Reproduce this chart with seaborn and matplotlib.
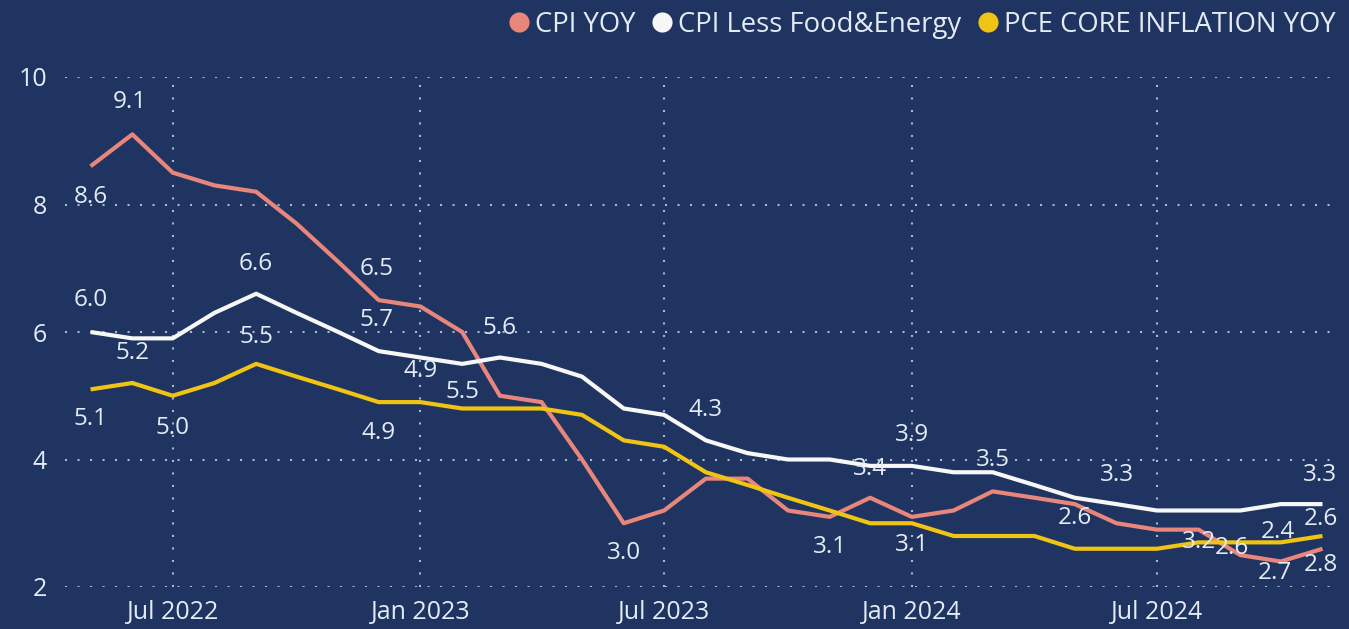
import pandas as pd
import matplotlib.pyplot as plt
import matplotlib.dates as mdates
from matplotlib.lines import Line2D
import seaborn as sns

# monthly values, May 2022 - Nov 2024
months = pd.date_range("2022-05-01", periods=31, freq="MS")
cpi_yoy = [8.6, 9.1, 8.5, 8.3, 8.2, 7.7, 7.1, 6.5, 6.4, 6.0, 5.0, 4.9, 4.0, 3.0, 3.2, 3.7,
           3.7, 3.2, 3.1, 3.4, 3.1, 3.2, 3.5, 3.4, 3.3, 3.0, 2.9, 2.9, 2.5, 2.4, 2.6]
cpi_core = [6.0, 5.9, 5.9, 6.3, 6.6, 6.3, 6.0, 5.7, 5.6, 5.5, 5.6, 5.5, 5.3, 4.8, 4.7, 4.3,
            4.1, 4.0, 4.0, 3.9, 3.9, 3.8, 3.8, 3.6, 3.4, 3.3, 3.2, 3.2, 3.2, 3.3, 3.3]
pce_core = [5.1, 5.2, 5.0, 5.2, 5.5, 5.3, 5.1, 4.9, 4.9, 4.8, 4.8, 4.8, 4.7, 4.3, 4.2, 3.8,
            3.6, 3.4, 3.2, 3.0, 3.0, 2.8, 2.8, 2.8, 2.6, 2.6, 2.6, 2.7, 2.7, 2.7, 2.8]

series_names = ["CPI YOY", "CPI Less Food&Energy", "PCE CORE INFLATION YOY"]
series_colors = ["#E8867C", "#F7F7F7", "#F0C414"]

# data labels: (series index, month index, text, dx px, dy px)
point_labels = [
    (0, 1, "9.1", -3, -32), (0, 0, "8.6", 0, 31), (1, 0, "6.0", 0, -32),
    (2, 1, "5.2", 0, -30), (2, 0, "5.1", 0, 30), (2, 2, "5.0", 0, 32),
    (1, 4, "6.6", 0, -30), (2, 4, "5.5", 0, -27), (0, 7, "6.5", -2, -31),
    (1, 7, "5.7", -2, -31), (2, 7, "4.9", 0, 31), (2, 8, "4.9", 0, -31),
    (1, 9, "5.5", 0, 28), (1, 10, "5.6", 0, -30), (1, 15, "4.3", 0, -30),
    (0, 13, "3.0", 0, 30), (0, 18, "3.1", 0, 30), (0, 19, "3.4", 0, -29),
    (1, 20, "3.9", 0, -31), (0, 20, "3.1", 0, 28), (0, 22, "3.5", 0, -31),
    (1, 25, "3.3", 0, -29), (2, 24, "2.6", 0, -31), (1, 27, "3.2", 0, 32),
    (0, 28, "2.6", -8, -7), (0, 29, "2.4", -3, -29), (2, 29, "2.7", -6, 31),
    (0, 30, "2.6", -2, -30), (2, 30, "2.8", -2, 29), (1, 30, "3.3", -2, -29),
]

values = [cpi_yoy, cpi_core, pce_core]
df = pd.concat([pd.DataFrame({"date": months, "value": v, "series": n})
                for n, v in zip(series_names, values)])

bg = "#1F3460"
txt = "#E4EBF5"

sns.set_theme(style="dark")
plt.rcParams["font.family"] = ["Open Sans", "DejaVu Sans"]

fig = plt.figure(figsize=(13.49, 6.29), dpi=100, facecolor=bg)
ax = fig.add_axes([65 / 1349, 42 / 629, 1275 / 1349, 510 / 629])
ax.set_facecolor(bg)

sns.lineplot(data=df, x="date", y="value", hue="series", hue_order=series_names,
             palette=series_colors, linewidth=3, legend=False, ax=ax,
             solid_joinstyle="round", solid_capstyle="butt")

ax.set_ylim(2, 10)
ax.set_xlim(pd.Timestamp("2022-04-12"), pd.Timestamp("2024-11-14"))
ax.set_yticks([2, 4, 6, 8, 10])
ax.set_xticks(pd.date_range("2022-07-01", periods=5, freq="6MS"))
ax.xaxis.set_major_formatter(mdates.DateFormatter("%b %Y"))
ax.grid(True, color="#A9B6CC", linestyle=(0, (1, 5)), linewidth=1.5)
ax.set_axisbelow(True)
ax.tick_params(axis="both", length=0, labelsize=18, colors=txt)
ax.tick_params(axis="y", pad=13)
ax.tick_params(axis="x", pad=9)
ax.set_xlabel("")
ax.set_ylabel("")
for s in ax.spines.values():
    s.set_visible(False)

for si, mi, label, dx, dy in point_labels:
    ax.annotate(label, xy=(months[mi], values[si][mi]),
                xytext=(dx * 0.72, -dy * 0.72), textcoords="offset points",
                ha="center", va="center", fontsize=17.5, color=txt,
                annotation_clip=False)

handles = [Line2D([], [], linestyle="", marker="o", markersize=14.5,
                  markerfacecolor=c, markeredgewidth=0) for c in series_colors]
fig.legend(handles, series_names, loc="center left", bbox_to_anchor=(509 / 1349, 1 - 25 / 629),
           ncol=3, frameon=False, fontsize=19.8, labelcolor=txt, borderpad=0,
           borderaxespad=0, handlelength=0.75, handletextpad=0.2, columnspacing=0.6)

fig.savefig("out.png", dpi=100, facecolor=bg)
